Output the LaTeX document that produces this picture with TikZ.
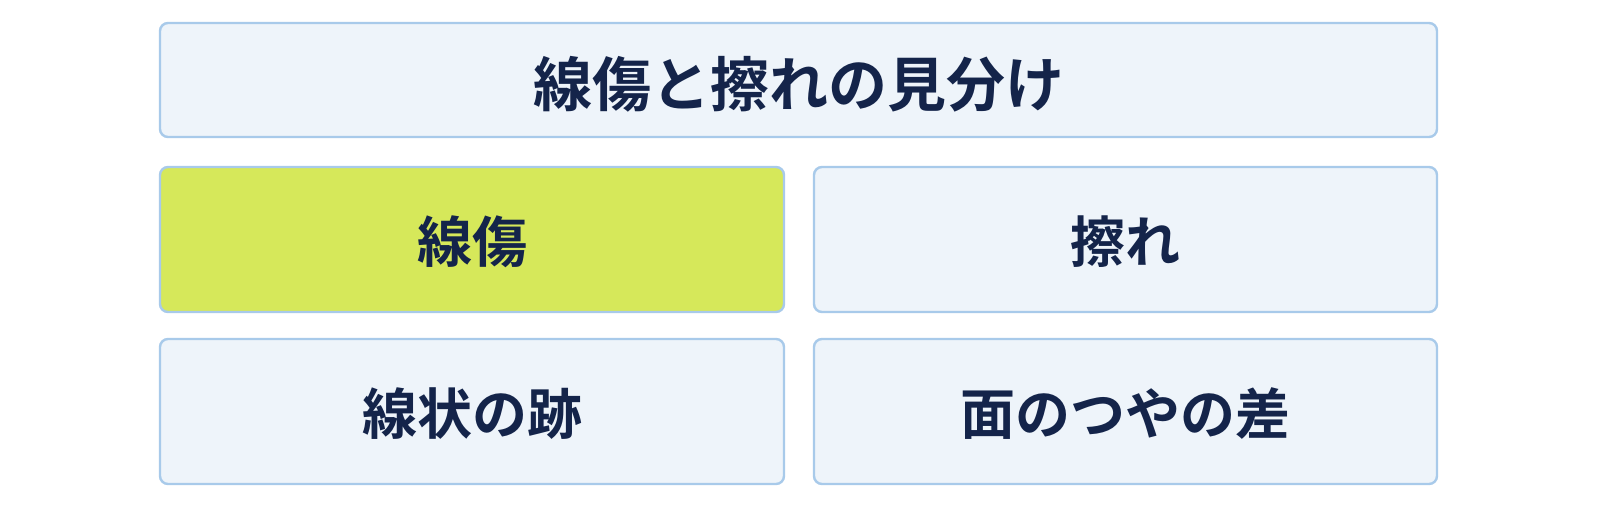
\documentclass[tikz,border=0pt]{standalone}
\usepackage{fontspec}
\newfontfamily\cjk{Noto Sans CJK JP}[BoldFont={Noto Sans CJK JP Bold}]
\definecolor{boxfill}{HTML}{EEF4FA}
\definecolor{boxline}{HTML}{A8CAEA}
\definecolor{hilite}{HTML}{D6E85A}
\definecolor{ink}{HTML}{14244A}
\tikzset{
  card/.style={draw=boxline, line width=1.2pt, fill=boxfill, rounded corners=4pt,
    text=ink, font=\cjk\bfseries\fontsize{27.5}{30}\selectfont, inner sep=0pt},
  hot/.style={card, fill=hilite},
  headcard/.style={card, font=\cjk\bfseries\fontsize{29.5}{32}\selectfont}
}
\begin{document}
\begin{tikzpicture}[x=0.5pt,y=-0.5pt]
\useasboundingbox (0,0) rectangle (1600,509);
\fill[white] (0,0) rectangle (1600,509);
\node[headcard, minimum width=638.5pt, minimum height=57pt] (title) at (798.5,80) {};
\node[text=ink, font=\cjk\bfseries\fontsize{29.5}{32}\selectfont, inner sep=0pt] (titletext) at (798.5,84) {線傷と擦れの見分け};
\node[hot, minimum width=312pt, minimum height=72.5pt] (senshou) at (472,239.5) {};
\node[text=ink, font=\cjk\bfseries\fontsize{27.5}{30}\selectfont, inner sep=0pt] (senshoutext) at (472,242) {線傷};
\node[card, minimum width=311.5pt, minimum height=72.5pt] (sure) at (1125.5,239.5) {};
\node[text=ink, font=\cjk\bfseries\fontsize{27.5}{30}\selectfont, inner sep=0pt] (suretext) at (1125.5,242) {擦れ};
\node[card, minimum width=312pt, minimum height=72.5pt] (senjou) at (472,411.5) {};
\node[text=ink, font=\cjk\bfseries\fontsize{27.5}{30}\selectfont, inner sep=0pt] (senjoutext) at (472,414) {線状の跡};
\node[card, minimum width=311.5pt, minimum height=72.5pt] (tsuya) at (1125.5,411.5) {};
\node[text=ink, font=\cjk\bfseries\fontsize{27.5}{30}\selectfont, inner sep=0pt] (tsuyatext) at (1125.5,414) {面のつやの差};
\end{tikzpicture}
\end{document}
